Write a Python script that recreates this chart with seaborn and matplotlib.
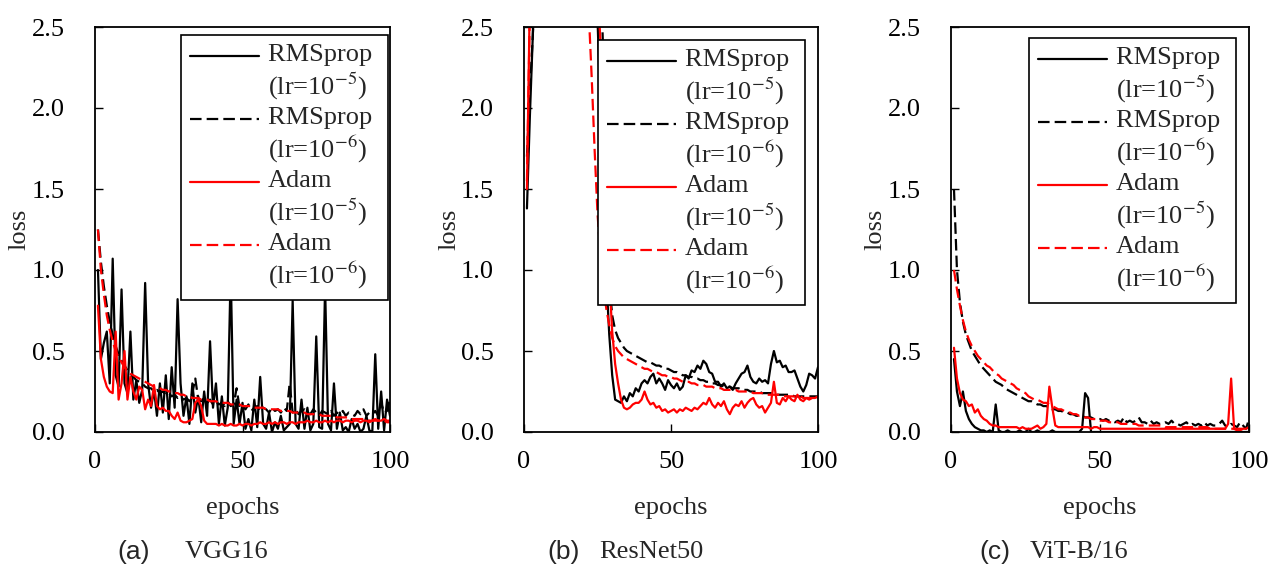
import numpy as np
import pandas as pd
import matplotlib
matplotlib.use('Agg')
import matplotlib.pyplot as plt
import seaborn as sns
from matplotlib.legend_handler import HandlerLine2D

sns.set_style('ticks')
plt.rcParams['font.family'] = ['Liberation Serif', 'DejaVu Serif']
plt.rcParams['mathtext.fontset'] = 'stix'
plt.rcParams['font.size'] = 19

# epochs 1..100
epochs = list(range(1, 101))

# (a) VGG16
vgg_rms5 = [1.00, 0.45, 0.55, 0.62, 0.30, 1.07, 0.35, 0.28, 0.88, 0.30,
            0.24, 0.62, 0.20, 0.32, 0.18, 0.26, 0.92, 0.30, 0.15, 0.26,
            0.10, 0.30, 0.12, 0.35, 0.08, 0.40, 0.15, 0.82, 0.30, 0.10,
            0.22, 0.05, 0.30, 0.12, 0.22, 0.06, 0.25, 0.10, 0.56, 0.15,
            0.30, 0.05, 0.22, 0.04, 0.15, 1.00, 0.05, 0.20, 0.05, 0.18,
            0.02, 0.08, 0.01, 0.20, 0.03, 0.34, 0.05, 0.02, 0.12, 0.00,
            0.06, 0.02, 0.10, 0.01, 0.03, 0.05, 0.81, 0.05, 0.02, 0.20,
            0.02, 0.15, 0.01, 0.05, 0.59, 0.03, 0.02, 0.90, 0.05, 0.01,
            0.30, 0.02, 0.12, 0.01, 0.03, 0.00, 0.08, 0.02, 0.05, 0.00,
            0.02, 0.10, 0.01, 0.00, 0.48, 0.02, 0.25, 0.01, 0.20, 0.10]
vgg_rms6 = [1.25, 1.05, 0.90, 0.78, 0.68, 0.60, 0.53, 0.48, 0.44, 0.41,
            0.38, 0.36, 0.34, 0.32, 0.31, 0.30, 0.28, 0.27, 0.27, 0.25,
            0.26, 0.24, 0.25, 0.23, 0.24, 0.22, 0.23, 0.21, 0.22, 0.20,
            0.21, 0.19, 0.24, 0.33, 0.20, 0.19, 0.21, 0.18, 0.20, 0.17,
            0.19, 0.17, 0.18, 0.16, 0.19, 0.16, 0.17, 0.27, 0.15, 0.16,
            0.14, 0.17, 0.13, 0.15, 0.16, 0.13, 0.15, 0.14, 0.12, 0.15,
            0.13, 0.14, 0.12, 0.15, 0.13, 0.30, 0.12, 0.14, 0.11, 0.13,
            0.14, 0.12, 0.11, 0.14, 0.12, 0.10, 0.13, 0.12, 0.11, 0.13,
            0.10, 0.12, 0.11, 0.13, 0.10, 0.12, 0.11, 0.10, 0.13, 0.11,
            0.14, 0.10, 0.12, 0.11, 0.13, 0.10, 0.18, 0.12, 0.13, 0.20]
vgg_adam5 = [0.78, 0.45, 0.34, 0.28, 0.25, 0.24, 0.62, 0.20, 0.30, 0.50,
             0.20, 0.34, 0.25, 0.20, 0.28, 0.26, 0.14, 0.20, 0.16, 0.29,
             0.16, 0.14, 0.15, 0.13, 0.13, 0.10, 0.08, 0.12, 0.07, 0.06,
             0.06, 0.07, 0.08, 0.18, 0.20, 0.16, 0.07, 0.05, 0.05, 0.05,
             0.05, 0.04, 0.05, 0.04, 0.04, 0.05, 0.04, 0.04, 0.05, 0.04,
             0.05, 0.05, 0.04, 0.05, 0.05, 0.06, 0.05, 0.05, 0.06, 0.05,
             0.06, 0.05, 0.06, 0.06, 0.05, 0.06, 0.06, 0.05, 0.06, 0.06,
             0.06, 0.07, 0.06, 0.06, 0.07, 0.06, 0.06, 0.07, 0.06, 0.07,
             0.06, 0.07, 0.07, 0.06, 0.07, 0.07, 0.06, 0.07, 0.07, 0.06,
             0.07, 0.07, 0.06, 0.07, 0.08, 0.07, 0.07, 0.08, 0.07, 0.07]
vgg_adam6 = [1.25, 1.00, 0.85, 0.72, 0.63, 0.56, 0.50, 0.46, 0.43, 0.40,
             0.38, 0.36, 0.35, 0.34, 0.33, 0.32, 0.31, 0.30, 0.29, 0.28,
             0.28, 0.27, 0.26, 0.26, 0.25, 0.25, 0.24, 0.24, 0.23, 0.23,
             0.22, 0.22, 0.21, 0.21, 0.21, 0.20, 0.20, 0.20, 0.19, 0.19,
             0.19, 0.18, 0.18, 0.18, 0.18, 0.17, 0.17, 0.17, 0.17, 0.16,
             0.16, 0.16, 0.16, 0.15, 0.15, 0.15, 0.15, 0.14, 0.14, 0.14,
             0.14, 0.14, 0.13, 0.13, 0.13, 0.13, 0.12, 0.12, 0.12, 0.12,
             0.12, 0.11, 0.11, 0.11, 0.11, 0.11, 0.10, 0.10, 0.10, 0.10,
             0.10, 0.09, 0.09, 0.09, 0.09, 0.09, 0.08, 0.08, 0.08, 0.08,
             0.08, 0.08, 0.07, 0.07, 0.07, 0.07, 0.07, 0.07, 0.06, 0.06]

# (b) ResNet50 (values above 2.5 are off the chart)
res_rms5 = [1.38, 1.95, 2.45, 3.00, 3.60, 4.20, 4.80, 5.30, 5.80, 6.20,
            6.50, 6.70, 6.80, 6.80, 6.70, 6.50, 6.20, 5.90, 5.50, 5.10,
            4.70, 4.30, 3.90, 3.40, 2.55, 2.00, 1.40, 0.95, 0.60, 0.35,
            0.20, 0.19, 0.18, 0.22, 0.19, 0.24, 0.22, 0.27, 0.25, 0.30,
            0.32, 0.30, 0.34, 0.36, 0.30, 0.33, 0.30, 0.26, 0.32, 0.29,
            0.27, 0.30, 0.26, 0.28, 0.35, 0.33, 0.38, 0.37, 0.41, 0.39,
            0.44, 0.42, 0.37, 0.36, 0.31, 0.31, 0.28, 0.30, 0.27, 0.28,
            0.26, 0.30, 0.33, 0.36, 0.37, 0.41, 0.34, 0.31, 0.30, 0.33,
            0.31, 0.32, 0.30, 0.42, 0.50, 0.43, 0.44, 0.40, 0.41, 0.37,
            0.37, 0.38, 0.33, 0.28, 0.25, 0.29, 0.36, 0.35, 0.33, 0.40]
res_rms6 = [1.70, 2.10, 2.45, 2.90, 3.40, 3.90, 4.30, 4.70, 5.00, 5.20,
            5.40, 5.50, 5.50, 5.40, 5.30, 5.10, 4.90, 4.60, 4.30, 4.00,
            3.70, 3.40, 3.10, 3.00, 2.95, 2.90, 2.30, 1.30, 0.92, 0.72,
            0.63, 0.58, 0.55, 0.52, 0.50, 0.49, 0.48, 0.47, 0.46, 0.45,
            0.44, 0.43, 0.43, 0.42, 0.41, 0.41, 0.40, 0.39, 0.39, 0.38,
            0.37, 0.37, 0.36, 0.35, 0.35, 0.34, 0.34, 0.33, 0.33, 0.32,
            0.32, 0.31, 0.31, 0.30, 0.30, 0.29, 0.29, 0.28, 0.28, 0.28,
            0.27, 0.27, 0.27, 0.26, 0.26, 0.26, 0.25, 0.25, 0.25, 0.25,
            0.24, 0.24, 0.24, 0.24, 0.24, 0.23, 0.23, 0.23, 0.23, 0.23,
            0.23, 0.22, 0.22, 0.22, 0.22, 0.22, 0.22, 0.22, 0.22, 0.22]
res_adam5 = [1.50, 2.70, 3.60, 4.30, 4.90, 5.40, 5.80, 6.10, 6.30, 6.40,
             6.40, 6.30, 6.20, 6.00, 5.80, 5.50, 5.20, 4.90, 4.60, 4.30,
             4.00, 3.70, 3.40, 3.10, 2.80, 2.40, 1.90, 1.40, 0.95, 0.62,
             0.42, 0.30, 0.20, 0.15, 0.14, 0.15, 0.17, 0.18, 0.18, 0.20,
             0.25, 0.20, 0.17, 0.18, 0.15, 0.16, 0.13, 0.14, 0.12, 0.13,
             0.14, 0.12, 0.14, 0.13, 0.15, 0.14, 0.13, 0.15, 0.14, 0.16,
             0.18, 0.17, 0.21, 0.17, 0.15, 0.18, 0.16, 0.19, 0.14, 0.11,
             0.15, 0.17, 0.16, 0.19, 0.15, 0.18, 0.20, 0.21, 0.17, 0.15,
             0.16, 0.12, 0.15, 0.18, 0.31, 0.18, 0.17, 0.21, 0.19, 0.22,
             0.20, 0.19, 0.23, 0.20, 0.19, 0.21, 0.20, 0.21, 0.21, 0.22]
res_adam6 = [1.55, 2.60, 3.40, 4.00, 4.50, 4.90, 5.20, 5.40, 5.50, 5.50,
             5.40, 5.30, 5.10, 4.90, 4.60, 4.30, 4.00, 3.70, 3.40, 3.10,
             2.85, 2.60, 2.20, 1.75, 1.35, 1.09, 0.90, 0.76, 0.66, 0.58,
             0.53, 0.50, 0.48, 0.46, 0.45, 0.44, 0.43, 0.42, 0.41, 0.40,
             0.39, 0.39, 0.38, 0.37, 0.37, 0.36, 0.35, 0.35, 0.34, 0.34,
             0.33, 0.33, 0.32, 0.31, 0.31, 0.31, 0.30, 0.30, 0.29, 0.29,
             0.29, 0.28, 0.28, 0.28, 0.27, 0.27, 0.27, 0.26, 0.26, 0.26,
             0.26, 0.26, 0.25, 0.25, 0.25, 0.25, 0.25, 0.24, 0.24, 0.24,
             0.24, 0.23, 0.23, 0.23, 0.23, 0.23, 0.23, 0.22, 0.22, 0.22,
             0.22, 0.22, 0.22, 0.22, 0.21, 0.21, 0.21, 0.21, 0.21, 0.21]

# (c) ViT-B/16
vit_rms5 = [0.45, 0.25, 0.16, 0.25, 0.13, 0.08, 0.05, 0.03, 0.02, 0.01,
            0.01, 0.00, 0.01, 0.00, 0.17, 0.01, 0.00, 0.00, 0.01, 0.00,
            0.00, 0.00, 0.01, 0.00, 0.00, 0.02, 0.00, 0.00, 0.01, 0.00,
            0.00, 0.00, 0.00, 0.01, 0.00, 0.00, 0.00, 0.00, 0.00, 0.00,
            0.00, 0.00, 0.00, 0.02, 0.24, 0.21, 0.00, 0.00, 0.00, 0.00,
            0.00, 0.00, 0.00, 0.00, 0.00, 0.00, 0.00, 0.00, 0.00, 0.00,
            0.00, 0.00, 0.00, 0.00, 0.00, 0.00, 0.00, 0.00, 0.00, 0.00,
            0.00, 0.00, 0.00, 0.00, 0.00, 0.00, 0.00, 0.00, 0.00, 0.00,
            0.00, 0.00, 0.00, 0.00, 0.00, 0.00, 0.00, 0.00, 0.00, 0.00,
            0.00, 0.00, 0.00, 0.00, 0.00, 0.00, 0.00, 0.00, 0.00, 0.00]
vit_rms6 = [1.50, 1.00, 0.80, 0.68, 0.60, 0.55, 0.50, 0.47, 0.44, 0.41,
            0.39, 0.37, 0.35, 0.33, 0.31, 0.30, 0.29, 0.27, 0.26, 0.25,
            0.24, 0.23, 0.22, 0.21, 0.20, 0.19, 0.19, 0.18, 0.17, 0.17,
            0.16, 0.16, 0.15, 0.14, 0.14, 0.13, 0.13, 0.12, 0.12, 0.11,
            0.11, 0.10, 0.10, 0.10, 0.09, 0.09, 0.09, 0.08, 0.08, 0.08,
            0.07, 0.08, 0.07, 0.07, 0.06, 0.07, 0.06, 0.09, 0.06, 0.07,
            0.06, 0.07, 0.09, 0.06, 0.06, 0.05, 0.07, 0.05, 0.06, 0.05,
            0.05, 0.06, 0.05, 0.07, 0.05, 0.05, 0.04, 0.05, 0.06, 0.04,
            0.05, 0.04, 0.05, 0.04, 0.06, 0.04, 0.05, 0.04, 0.04, 0.05,
            0.07, 0.04, 0.03, 0.05, 0.04, 0.03, 0.06, 0.04, 0.02, 0.08]
vit_adam5 = [0.52, 0.33, 0.24, 0.20, 0.19, 0.16, 0.17, 0.12, 0.14, 0.10,
             0.08, 0.07, 0.05, 0.04, 0.04, 0.03, 0.03, 0.03, 0.03, 0.03,
             0.03, 0.03, 0.02, 0.03, 0.02, 0.02, 0.02, 0.03, 0.04, 0.02,
             0.03, 0.05, 0.28, 0.15, 0.04, 0.03, 0.03, 0.03, 0.03, 0.03,
             0.03, 0.03, 0.03, 0.03, 0.03, 0.03, 0.02, 0.03, 0.03, 0.02,
             0.02, 0.02, 0.02, 0.02, 0.02, 0.02, 0.02, 0.02, 0.02, 0.02,
             0.02, 0.02, 0.02, 0.02, 0.02, 0.02, 0.02, 0.02, 0.02, 0.02,
             0.02, 0.02, 0.02, 0.02, 0.02, 0.02, 0.02, 0.02, 0.02, 0.02,
             0.02, 0.02, 0.02, 0.02, 0.02, 0.02, 0.02, 0.02, 0.02, 0.02,
             0.02, 0.02, 0.05, 0.33, 0.02, 0.01, 0.01, 0.02, 0.02, 0.03]
vit_adam6 = [1.00, 0.88, 0.78, 0.69, 0.62, 0.57, 0.53, 0.50, 0.47, 0.45,
             0.43, 0.41, 0.40, 0.38, 0.36, 0.35, 0.33, 0.32, 0.31, 0.30,
             0.29, 0.27, 0.26, 0.25, 0.24, 0.22, 0.21, 0.20, 0.20, 0.19,
             0.18, 0.18, 0.17, 0.16, 0.15, 0.14, 0.14, 0.13, 0.12, 0.12,
             0.11, 0.11, 0.10, 0.10, 0.09, 0.09, 0.08, 0.08, 0.08, 0.07,
             0.07, 0.07, 0.06, 0.06, 0.06, 0.06, 0.05, 0.05, 0.05, 0.05,
             0.05, 0.05, 0.04, 0.04, 0.04, 0.04, 0.04, 0.04, 0.04, 0.04,
             0.04, 0.03, 0.03, 0.03, 0.03, 0.03, 0.03, 0.03, 0.03, 0.03,
             0.03, 0.03, 0.03, 0.03, 0.03, 0.03, 0.02, 0.02, 0.02, 0.02,
             0.02, 0.02, 0.02, 0.02, 0.02, 0.02, 0.02, 0.02, 0.02, 0.02]

# trailing space gives the legend box its extra right margin
labels = ['RMSprop \n(lr=10$^{-5}$)', 'RMSprop \n(lr=10$^{-6}$)',
          'Adam\n(lr=10$^{-5}$)', 'Adam\n(lr=10$^{-6}$)']
colors = ['black', 'black', 'red', 'red']
dashed = [False, True, False, True]

panels = [
    ('(a)', 'VGG16', [vgg_rms5, vgg_rms6, vgg_adam5, vgg_adam6]),
    ('(b)', 'ResNet50', [res_rms5, res_rms6, res_adam5, res_adam6]),
    ('(c)', 'ViT-B/16', [vit_rms5, vit_rms6, vit_adam5, vit_adam6]),
]

# layout (figure fractions)
lefts = [95 / 1271, 524 / 1271, 951 / 1271]
widths = [295 / 1271, 294 / 1271, 298 / 1271]
bottom, height = 138 / 570, 405 / 570
legend_anchor = [(0.993, 0.980), (0.956, 0.968), (0.956, 0.973)]
sub_pos = [(0.186, 0.305), (0.19, 0.255), (0.198, 0.265)]


class TopLine(HandlerLine2D):
    # put the legend line next to the first text line
    def create_artists(self, legend, orig_handle, xdescent, ydescent,
                       width, height, fontsize, trans):
        arts = super().create_artists(legend, orig_handle, xdescent, ydescent,
                                      width, height, fontsize, trans)
        for a in arts:
            a.set_ydata(np.asarray(a.get_ydata()) + 0.62 * fontsize)
        return arts


fig = plt.figure(figsize=(12.71, 5.70), dpi=100)

for i, (tag, name, series) in enumerate(panels):
    ax = fig.add_axes([lefts[i], bottom, widths[i], height])
    for vals, lab, c, d in zip(series, labels, colors, dashed):
        df = pd.DataFrame({'epochs': epochs, 'loss': vals})
        ls = (0, (5.2, 2.3)) if d else '-'
        sns.lineplot(data=df, x='epochs', y='loss', ax=ax, color=c,
                     linewidth=1.6, linestyle=ls, label=lab)
    ax.set_xlim(0, 100)
    ax.set_ylim(0, 2.5)
    ax.set_xticks([0, 50, 100])
    ax.set_yticks([0, 0.5, 1.0, 1.5, 2.0, 2.5])
    ax.set_yticklabels(['0.0', '0.5', '1.0', '1.5', '2.0', '2.5'])
    ax.tick_params(axis='both', direction='in', length=6, width=1.0,
                   labelsize=19, colors='black')
    ax.tick_params(axis='y', pad=22)
    ax.tick_params(axis='x', pad=14)
    for sp in ax.spines.values():
        sp.set_visible(True)
        sp.set_linewidth(1.3)
        sp.set_color('black')
    ax.set_xlabel('epochs', fontsize=19)
    ax.set_ylabel('loss', fontsize=19)
    ax.xaxis.set_label_coords(0.5, -0.188)
    ax.xaxis.label.set_va('center')
    ax.yaxis.set_label_coords(-0.255, 0.5)
    ax.yaxis.label.set_va('center')

    handles = ax.get_lines()[:4]
    leg = ax.legend(handles, labels, loc='upper right',
                    bbox_to_anchor=legend_anchor[i], borderaxespad=0,
                    fontsize=19, handlelength=2.6, handletextpad=0.35,
                    labelspacing=0.2, borderpad=0.35, fancybox=False,
                    framealpha=1, edgecolor='black',
                    handler_map={matplotlib.lines.Line2D: TopLine()})
    leg.get_frame().set_linewidth(1.2)

    ax.text(sub_pos[i][0], -0.296, tag, transform=ax.transAxes,
            ha='right', va='center', fontsize=19,
            family=['Liberation Sans', 'DejaVu Sans'])
    ax.text(sub_pos[i][1], -0.296, name, transform=ax.transAxes,
            ha='left', va='center', fontsize=19)

fig.savefig('out.png', dpi=100)
